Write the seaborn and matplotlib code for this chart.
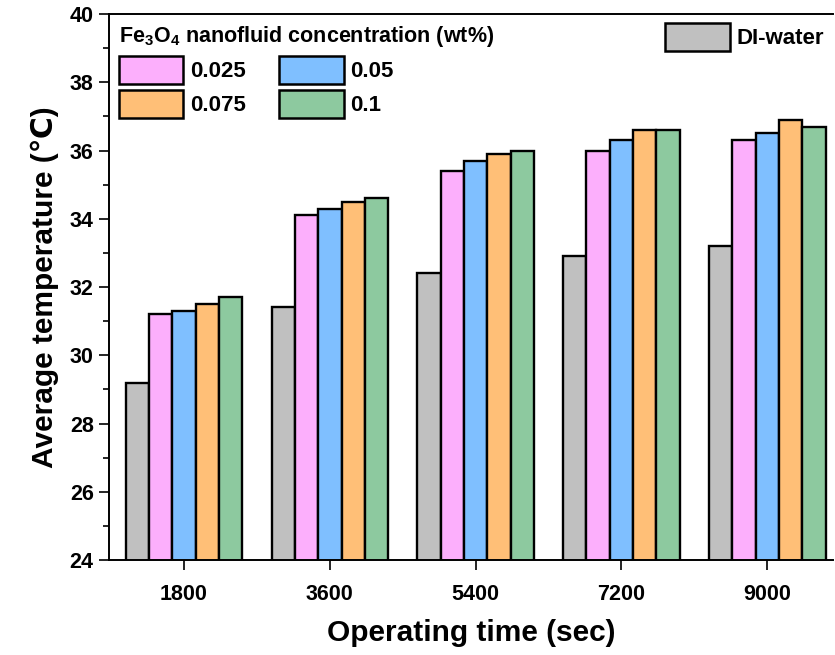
import matplotlib
matplotlib.use("Agg")
import matplotlib.pyplot as plt
from matplotlib.patches import Patch
from matplotlib.ticker import MultipleLocator
import seaborn as sns
import pandas as pd

times = ["1800", "3600", "5400", "7200", "9000"]
series_names = ["DI-water", "0.025", "0.05", "0.075", "0.1"]
di_water = [29.2, 31.4, 32.4, 32.9, 33.2]
c0025 = [31.2, 34.1, 35.4, 36.0, 36.3]
c005 = [31.3, 34.3, 35.7, 36.3, 36.5]
c0075 = [31.5, 34.5, 35.9, 36.6, 36.9]
c01 = [31.7, 34.6, 36.0, 36.6, 36.7]
colors = ["#C0C0C0", "#FCAFFC", "#7FBFFF", "#FFBF77", "#8DC99F"]

rows = []
for name, vals in zip(series_names, [di_water, c0025, c005, c0075, c01]):
    for t, v in zip(times, vals):
        rows.append({"time": t, "series": name, "temp": v})
df = pd.DataFrame(rows)

sns.set_theme(style="ticks")
plt.rcParams["font.family"] = ["Liberation Sans", "DejaVu Sans"]
plt.rcParams["font.weight"] = "bold"
for k in ["text.color", "axes.labelcolor", "xtick.color", "ytick.color", "axes.edgecolor"]:
    plt.rcParams[k] = "black"

fig = plt.figure(figsize=(8.35, 6.55), dpi=100)
ax = fig.add_axes([0.1305, 0.145, 0.867, 0.8336])

sns.barplot(data=df, x="time", y="temp", hue="series", order=times,
            hue_order=series_names, palette=colors, width=0.8,
            edgecolor="black", linewidth=1.7, saturation=1, ax=ax,
            legend=False)

ax.set_ylim(24, 40)
ax.set_xlim(-0.515, 4.45)
ax.yaxis.set_major_locator(MultipleLocator(2))
ax.yaxis.set_minor_locator(MultipleLocator(1))
ax.tick_params(axis="y", which="major", direction="out", length=7, width=1.2,
               labelsize=15.5, right=False, pad=4)
ax.tick_params(axis="y", which="minor", direction="out", length=4, width=1.2)
ax.tick_params(axis="x", which="major", direction="out", length=7, width=1.2,
               labelsize=15.5, pad=10, top=False)
for lbl in ax.get_xticklabels() + ax.get_yticklabels():
    lbl.set_fontweight("bold")
for s in ax.spines.values():
    s.set_linewidth(1.4)
ax.spines["right"].set_visible(False)

ax.set_xlabel("Operating time (sec)", fontsize=21.5, fontweight="bold", labelpad=10)
ax.set_ylabel("Average temperature (\u2103)", fontsize=21.5, fontweight="bold", labelpad=8)

# Legends
hdl = {n: Patch(facecolor=c, edgecolor="black", linewidth=1.8) for n, c in zip(series_names, colors)}
order = ["0.025", "0.075", "0.05", "0.1"]
leg1 = ax.legend([hdl[n] for n in order], order, ncol=2, loc="upper left",
                 title="Fe$_\\mathregular{3}$O$_\\mathregular{4}$ nanofluid concentration (wt%)",
                 frameon=False, handlelength=2.9, handleheight=1.55,
                 columnspacing=1.5, handletextpad=0.3, labelspacing=0.3,
                 prop={"weight": "bold", "size": 16}, borderaxespad=0.05,
                 alignment="left")
leg1.get_title().set_fontweight("bold")
leg1.get_title().set_fontsize(15.5)
ax.add_artist(leg1)
ax.legend([hdl["DI-water"]], ["DI-water"], loc="upper right", frameon=False,
          handlelength=2.9, handleheight=1.55, handletextpad=0.3,
          prop={"weight": "bold", "size": 16}, borderaxespad=0.0)

fig.savefig("out.png", dpi=100)
